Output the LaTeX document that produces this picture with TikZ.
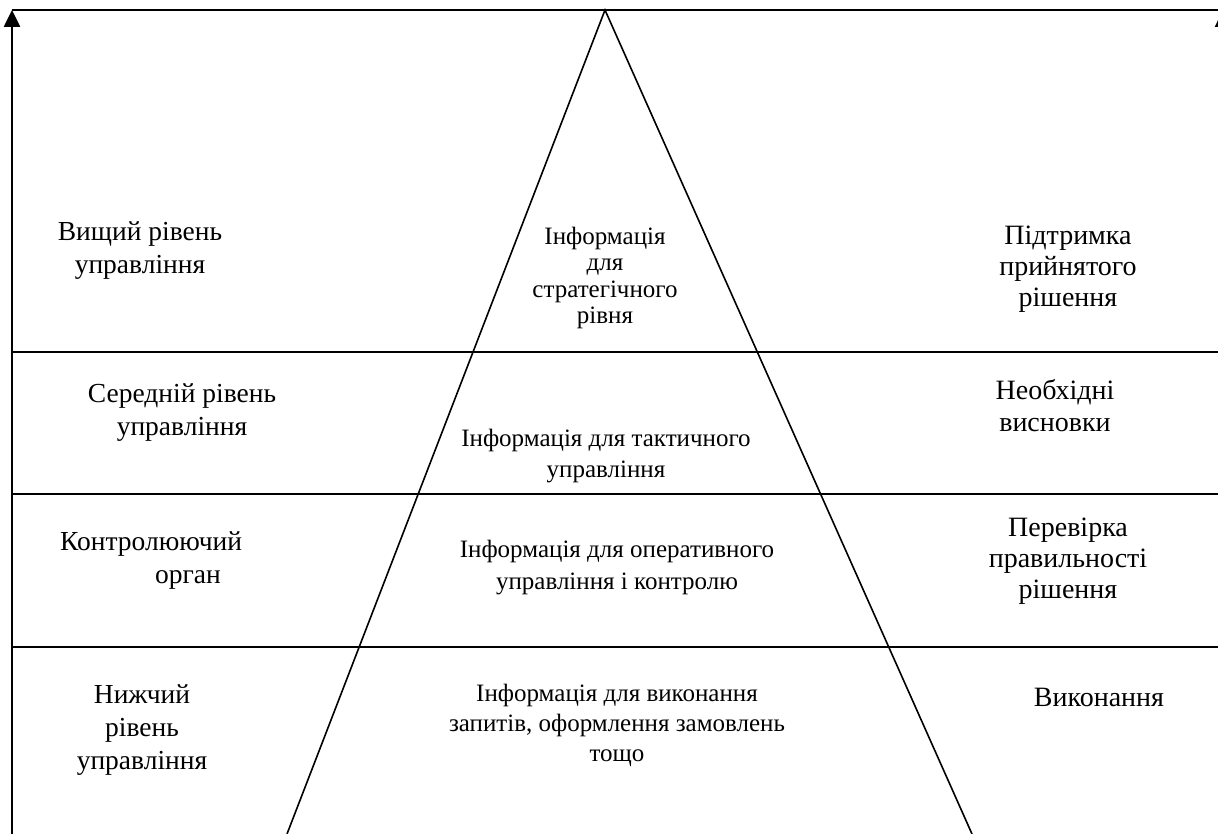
\documentclass[tikz,border=0pt]{standalone}
\usepackage{fontspec}
\setmainfont{Liberation Serif}
\usetikzlibrary{arrows.meta}
\begin{document}
\begin{tikzpicture}[x=1pt,y=-1pt,
  lbl/.style={inner sep=0pt,align=center,font=\fontsize{27.5}{33}\selectfont},
  ctr/.style={inner sep=0pt,align=center,font=\fontsize{25}{31}\selectfont},
  rgt/.style={inner sep=0pt,align=center,font=\fontsize{28}{31}\selectfont},
  axis/.style={line width=2.6pt,-{Triangle[length=17pt,width=16pt]}},
  sep/.style={line width=2pt},
  tri/.style={line width=1.6pt}]
\useasboundingbox (0,0) rectangle (1218,834);
% frame
\coordinate (tl) at (12,10);
\coordinate (tr) at (1218,10);
\coordinate (bl) at (12,834);
\coordinate (rb) at (1223,834);
\coordinate (rt) at (1223,10);
\draw[axis] (bl) -- (tl);
\draw[axis] (rb) -- (rt);
\draw[sep] (tl) -- (tr);
% separators
\foreach \y/\n in {352/a,494/b,647/c}{
  \coordinate (s\n l) at (12,\y);
  \coordinate (s\n r) at (1218,\y);
  \draw[sep] (s\n l) -- (s\n r);
}
% pyramid
\coordinate (apex) at (605,10);
\coordinate (pl) at (287,834);
\coordinate (pr) at (972,834);
\draw[tri] (pl) -- (apex) -- (pr);
% left labels
\node[lbl] (l1) at (140,251) {Вищий рівень\\управління};
\node[lbl] (l2) at (182,413) {Середній рівень\\управління};
\node[lbl,align=left,anchor=west] (l3) at (60,561) {Контролюючий\\\hspace*{95pt}орган};
\node[lbl] (l4) at (142,730) {Нижчий\\рівень\\управління};
% centre labels
\node[ctr,font=\fontsize{25}{26.5}\selectfont] (c1) at (605,278) {Інформація\\для\\стратегічного\\рівня};
\node[ctr] (c2) at (606,456) {Інформація для тактичного\\управління};
\node[ctr,font=\fontsize{25}{32}\selectfont] (c3) at (617,568) {Інформація для оперативного\\управління і контролю};
\node[ctr,font=\fontsize{25}{30}\selectfont] (c4) at (617,725) {Інформація для виконання\\запитів, оформлення замовлень\\тощо};
% right labels
\node[rgt] (r1) at (1068,269) {Підтримка\\прийнятого\\рішення};
\node[rgt,font=\fontsize{28}{32}\selectfont] (r2) at (1055,406) {Необхідні\\висновки};
\node[rgt] (r3) at (1068,561) {Перевірка\\правильності\\рішення};
\node[rgt] (r4) at (1099,697) {Виконання};
\end{tikzpicture}
\end{document}
